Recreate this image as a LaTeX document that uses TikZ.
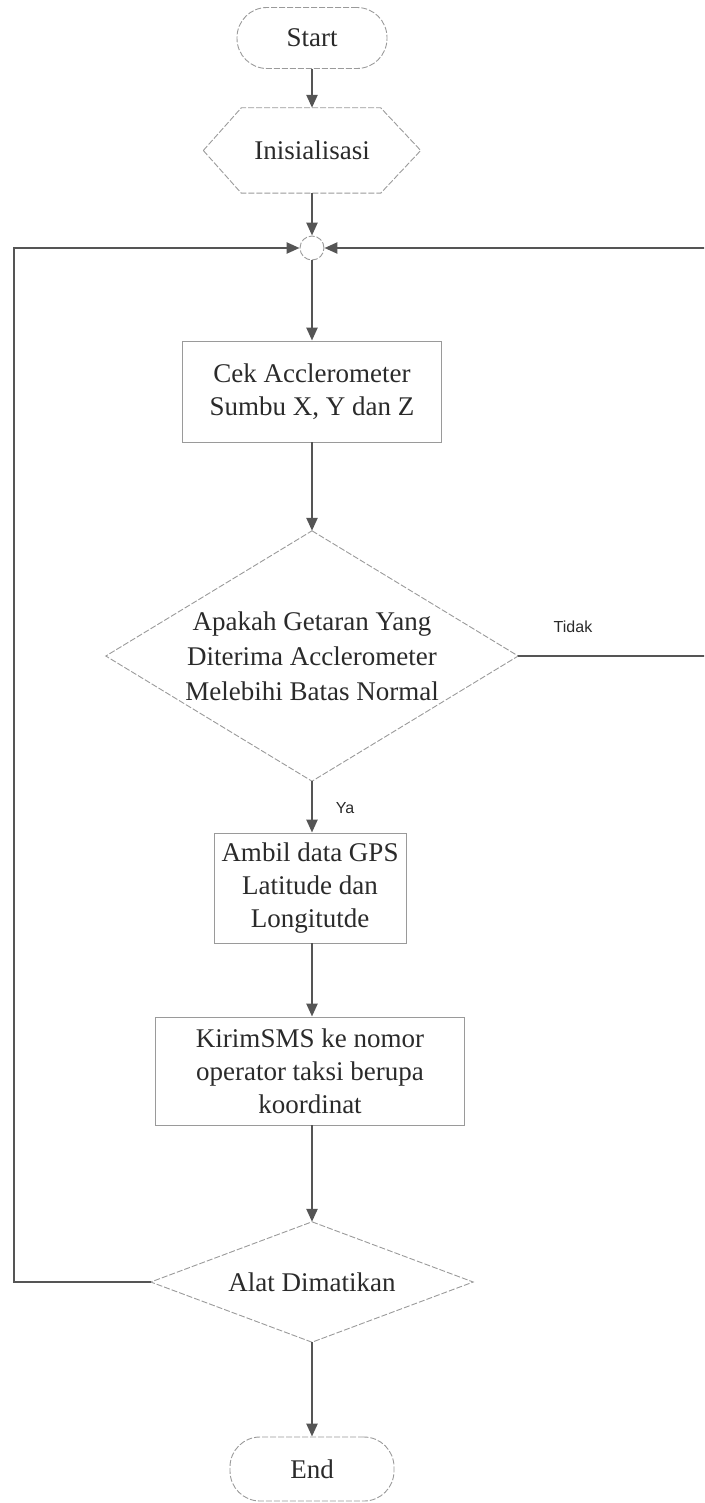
\documentclass[tikz,border=0pt]{standalone}
\usepackage{fontspec}
\setmainfont{Liberation Serif}
\newfontfamily\labelfont{Liberation Sans}
\usetikzlibrary{arrows.meta}
\definecolor{ink}{HTML}{2A2A2A}
\definecolor{conn}{HTML}{555555}
\definecolor{edgegray}{HTML}{9A9A9A}
\begin{document}
\begin{tikzpicture}[x=1pt,y=-1pt,
  txt/.style={font=\fontsize{27}{33}\selectfont, text=ink, align=center, inner sep=0pt},
  outline/.style={draw=edgegray, line width=0.9pt, dash pattern=on 6pt off 2pt},
  procbox/.style={txt, draw=edgegray, line width=0.9pt, rectangle},
  term/.style={txt, outline, rounded corners=30pt},
  flow/.style={draw=conn, line width=2.4pt, -{Triangle[length=13pt,width=11pt]}},
  lbl/.style={font=\labelfont\fontsize{16}{18}\selectfont, text=ink, inner sep=0pt}]
\useasboundingbox (0,0) rectangle (704,1503);
\clip (0,0) rectangle (704,1503);

% nodes
\node[term, minimum width=150pt, minimum height=61pt] (start) at (312,38) {Start};
\node[txt, minimum width=217pt, minimum height=85pt] (ini) at (312,150.5) {Inisialisasi};
\draw[outline] (ini.west) -- ([xshift=38pt]ini.north west) -- ([xshift=-40pt]ini.north east)
  -- (ini.east) -- ([xshift=-40pt]ini.south east) -- ([xshift=38pt]ini.south west) -- cycle;
\node[circle, outline, minimum size=24pt, inner sep=0pt] (circ) at (312,248) {};
\node[procbox, minimum width=259pt, minimum height=101pt] (cek) at (312,391.5) {Cek Acclerometer\\Sumbu X, Y dan Z};
\node[txt, font=\fontsize{27}{35}\selectfont, minimum width=412pt, minimum height=250pt] (d1) at (312,656)
  {Apakah Getaran Yang\\Diterima Acclerometer\\Melebihi Batas Normal};
\draw[outline] (d1.north) -- (d1.east) -- (d1.south) -- (d1.west) -- cycle;
\node[procbox, minimum width=192pt, minimum height=110pt] (ambil) at (310,888) {Ambil data GPS\\Latitude dan\\Longitutde};
\node[procbox, minimum width=309pt, minimum height=108pt] (kirim) at (310,1071) {KirimSMS ke nomor\\operator taksi berupa\\koordinat};
\node[txt, minimum width=322pt, minimum height=120pt] (alat) at (312,1282) {Alat Dimatikan};
\draw[outline] (alat.north) -- (alat.east) -- (alat.south) -- (alat.west) -- cycle;
\node[term, minimum width=164pt, minimum height=64pt] (end) at (312,1469) {End};

% loop corners
\coordinate (lc1) at (14,1282);
\coordinate (lc2) at (14,248);
\coordinate (rc1) at (707,656);
\coordinate (rc2) at (707,248);

% connectors
\draw[flow] (start.south) -- (ini.north);
\draw[flow] (ini.south) -- (circ.north);
\draw[flow] (circ.south) -- (cek.north);
\draw[flow] (cek.south) -- (d1.north);
\draw[flow] (d1.south) -- (d1.south |- ambil.north);
\draw[flow] (ambil.south -| alat.north) -- (kirim.north -| alat.north);
\draw[flow] (kirim.south -| alat.north) -- (alat.north);
\draw[flow] (alat.south) -- (end.north);
\draw[flow] (alat.west) -- (lc1) -- (lc2) -- (circ.west);
\draw[flow] (d1.east) -- (rc1) -- (rc2) -- (circ.east);

% labels
\node[lbl] (tidak) at (573,627) {Tidak};
\node[lbl] (ya) at (345,808) {Ya};
\end{tikzpicture}
\end{document}
